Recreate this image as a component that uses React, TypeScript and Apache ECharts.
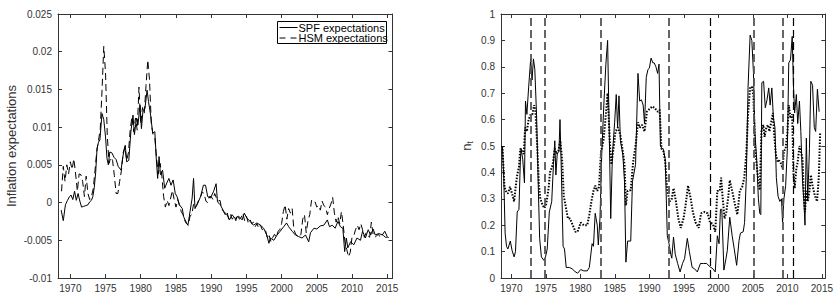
import React, { useEffect, useRef } from "react";
import * as echarts from "echarts";

const yearTicks = [1970, 1975, 1980, 1985, 1990, 1995, 2000, 2005, 2010, 2015];
const legendLabels = ["SPF expectations", "HSM expectations"];

// Left panel: inflation expectations [year, value]
const spfExpectations: [number, number][] = [
  [1968.7, -0.001], [1969.0, -0.0024], [1969.3, -0.0003], [1969.6, 0.0003], [1969.9, 0.0008],
  [1970.1, 0.001], [1970.35, 0.0004], [1970.6, 0.0015], [1970.85, 0.0003], [1971.1, 0.0012],
  [1971.35, 0.0002], [1971.6, -0.0006], [1971.9, -0.0005], [1972.2, -0.0004], [1972.5, -0.0003],
  [1972.75, 0.0001], [1973.0, 0.0003], [1973.2, 0.0008], [1973.4, 0.002], [1973.6, 0.004],
  [1973.8, 0.0072], [1974.0, 0.008], [1974.2, 0.0083], [1974.5, 0.0118], [1974.75, 0.011],
  [1975.0, 0.0087], [1975.2, 0.0059], [1975.4, 0.005], [1975.6, 0.0067], [1975.9, 0.0066],
  [1976.2, 0.006], [1976.5, 0.0057], [1976.8, 0.0048], [1977.2, 0.0043], [1977.5, 0.0063],
  [1977.8, 0.0076], [1978.0, 0.0054], [1978.3, 0.0056], [1978.6, 0.0094], [1978.9, 0.0116],
  [1979.1, 0.009], [1979.4, 0.0112], [1979.6, 0.0103], [1979.9, 0.0129], [1980.1, 0.0098],
  [1980.3, 0.012], [1980.6, 0.0125], [1980.9, 0.0149], [1981.1, 0.0134], [1981.4, 0.0116],
  [1981.7, 0.0092], [1982.0, 0.0094], [1982.2, 0.0059], [1982.4, 0.0032], [1982.6, 0.0061],
  [1982.8, 0.0037], [1983.1, 0.0043], [1983.4, 0.0019], [1983.7, 0.0026], [1984.0, 0.0032],
  [1984.3, 0.0023], [1984.6, 0.003], [1984.9, 0.0012], [1985.15, 0.0008], [1985.5, -0.0003],
  [1985.9, -0.0008], [1986.1, -0.0019], [1986.5, -0.0027], [1986.7, -0.003], [1987.0, -0.0012],
  [1987.3, 0.0006], [1987.5, 0.0032], [1987.7, -0.0008], [1988.0, -0.0003], [1988.5, 0.0008],
  [1988.9, 0.0023], [1989.2, 0.0023], [1989.5, 0.0008], [1989.9, 0.0006], [1990.35, 0.0015],
  [1990.7, 0.0025], [1990.9, 0.0001], [1991.3, -0.0003], [1991.8, -0.0012], [1992.25, -0.0016],
  [1992.6, -0.0023], [1992.96, -0.0016], [1993.4, -0.0021], [1993.9, -0.0018], [1994.4, -0.0023],
  [1994.7, -0.0014], [1995.1, -0.0021], [1995.55, -0.0025], [1996.0, -0.003], [1996.5, -0.0027],
  [1997.0, -0.003], [1997.45, -0.0034], [1997.9, -0.0043], [1998.2, -0.0054], [1998.4, -0.0047],
  [1998.9, -0.005], [1999.35, -0.0043], [1999.8, -0.0038], [2000.3, -0.0032], [2000.7, -0.0027],
  [2001.0, -0.0032], [2001.5, -0.0038], [2001.96, -0.0043], [2002.4, -0.0045], [2002.9, -0.0047],
  [2003.4, -0.0043], [2003.85, -0.0052], [2004.1, -0.004], [2004.6, -0.0034], [2005.0, -0.0035],
  [2005.5, -0.0031], [2006.0, -0.003], [2006.5, -0.0023], [2006.8, -0.0032], [2007.2, -0.003],
  [2007.6, -0.0034], [2008.0, -0.0025], [2008.35, -0.0032], [2008.7, -0.0034], [2008.96, -0.0065],
  [2009.2, -0.0047], [2009.4, -0.006], [2009.8, -0.0052], [2010.25, -0.0056], [2010.7, -0.0047],
  [2011.2, -0.005], [2011.5, -0.0038], [2011.9, -0.0047], [2012.3, -0.0036], [2012.65, -0.0043],
  [2013.0, -0.0035], [2013.3, -0.0043], [2013.8, -0.0041], [2014.3, -0.0043], [2014.65, -0.0038],
  [2015.0, -0.0045], [2015.2, -0.0047],
];

const hsmExpectations: [number, number][] = [
  [1968.75, 0.0015], [1969.0, 0.0048], [1969.25, 0.0028], [1969.5, 0.005], [1969.75, 0.0038],
  [1970.0, 0.0054], [1970.25, 0.0044], [1970.5, 0.0058], [1970.75, 0.0038], [1971.0, 0.0015],
  [1971.25, 0.0038], [1971.5, 0.0037], [1971.75, 0.0028], [1972.0, 0.0008], [1972.25, 0.0035],
  [1972.5, 0.0012], [1972.75, 0.0004], [1973.0, 0.0008], [1973.25, 0.0018], [1973.5, 0.0042],
  [1973.75, 0.0068], [1974.0, 0.0082], [1974.25, 0.0098], [1974.5, 0.0148], [1974.75, 0.0207],
  [1975.0, 0.0172], [1975.25, 0.0088], [1975.5, 0.0052], [1975.75, 0.006], [1976.0, 0.0056],
  [1976.25, 0.0036], [1976.5, 0.0012], [1976.75, 0.0012], [1977.0, 0.0028], [1977.25, 0.0042],
  [1977.5, 0.0066], [1977.75, 0.0074], [1978.0, 0.0056], [1978.25, 0.0066], [1978.5, 0.0096],
  [1978.75, 0.0114], [1979.0, 0.0094], [1979.25, 0.0112], [1979.5, 0.0096], [1979.75, 0.0153],
  [1980.0, 0.0104], [1980.25, 0.0126], [1980.5, 0.0118], [1980.75, 0.0155], [1981.0, 0.0189],
  [1981.25, 0.0162], [1981.5, 0.0104], [1981.75, 0.009], [1982.0, 0.0086], [1982.25, 0.0058],
  [1982.5, 0.0038], [1982.75, 0.0052], [1983.0, 0.0035], [1983.25, 0.0008], [1983.5, -0.0006],
  [1983.75, 0.0003], [1984.0, -0.0004], [1984.25, 0.0006], [1984.5, 0.0016], [1984.75, 0.0004],
  [1985.0, -0.0006], [1985.25, 0.0004], [1985.5, -0.0004], [1985.75, -0.0012], [1986.0, -0.0016],
  [1986.25, -0.0024], [1986.5, -0.0028], [1986.75, -0.003], [1987.0, -0.0018], [1987.25, -0.0016],
  [1987.5, -0.0002], [1987.75, -0.0006], [1988.0, -0.0002], [1988.25, 0.0004], [1988.5, 0.0008],
  [1988.75, 0.0014], [1989.0, 0.0012], [1989.25, 0.0002], [1989.5, 0.0], [1989.75, 0.0008],
  [1990.0, 0.0008], [1990.25, 0.0004], [1990.5, 0.0012], [1990.75, 0.0006], [1991.0, 0.0002],
  [1991.25, 0.0003], [1991.5, -0.0008], [1991.75, -0.0012], [1992.0, -0.0016], [1992.25, -0.0012],
  [1992.5, -0.0022], [1992.75, -0.0016], [1993.0, -0.0022], [1993.25, -0.0018], [1993.5, -0.0024],
  [1993.75, -0.0016], [1994.0, -0.0022], [1994.25, -0.002], [1994.5, -0.0014], [1994.75, -0.0024],
  [1995.0, -0.0018], [1995.25, -0.0026], [1995.5, -0.0022], [1995.75, -0.0028], [1996.0, -0.0026],
  [1996.25, -0.0032], [1996.5, -0.0028], [1996.75, -0.0034], [1997.0, -0.003], [1997.25, -0.0036],
  [1997.5, -0.0034], [1997.75, -0.0038], [1998.0, -0.0048], [1998.25, -0.0044], [1998.5, -0.0052],
  [1998.75, -0.0046], [1999.0, -0.0042], [1999.25, -0.0046], [1999.5, -0.0038], [1999.75, -0.0036],
  [2000.0, -0.0028], [2000.25, -0.0012], [2000.5, -0.0003], [2000.75, -0.0022], [2001.0, -0.0008],
  [2001.25, -0.0014], [2001.5, -0.0008], [2001.75, -0.0036], [2002.0, -0.0042], [2002.25, -0.0044],
  [2002.5, -0.0046], [2002.75, -0.0042], [2003.0, -0.0022], [2003.25, -0.0016], [2003.5, -0.004],
  [2003.75, -0.0024], [2004.0, -0.0016], [2004.25, 0.0003], [2004.5, 0.0], [2004.75, 0.0001],
  [2005.0, -0.0006], [2005.25, -0.0004], [2005.5, -0.001], [2005.75, 0.0002], [2006.0, -0.0004],
  [2006.25, -0.0006], [2006.5, -0.0016], [2006.75, -0.0008], [2007.0, -0.0002], [2007.25, 0.0007],
  [2007.5, -0.0014], [2007.75, -0.0026], [2008.0, -0.0018], [2008.25, -0.0028], [2008.5, -0.0012],
  [2008.75, -0.003], [2009.0, -0.0052], [2009.25, -0.0062], [2009.5, -0.0072], [2009.75, -0.0066],
  [2010.0, -0.0046], [2010.25, -0.0044], [2010.5, -0.0036], [2010.75, -0.003], [2011.0, -0.0036],
  [2011.25, -0.0028], [2011.5, -0.0036], [2011.75, -0.0046], [2012.0, -0.004], [2012.25, -0.0044],
  [2012.5, -0.0046], [2012.75, -0.0026], [2013.0, -0.0042], [2013.25, -0.0046], [2013.5, -0.0044],
  [2013.75, -0.0042], [2014.0, -0.0046], [2014.25, -0.0042], [2014.5, -0.0044], [2014.75, -0.0046],
  [2015.0, -0.0046], [2015.25, -0.0048],
];

// Right panel: n_t (solid) and dotted companion series [year, value]
const nSolid: [number, number][] = [
  [1968.7, 0.5], [1968.9, 0.38], [1969.1, 0.17], [1969.3, 0.12], [1969.5, 0.11], [1969.85, 0.14],
  [1970.1, 0.105], [1970.4, 0.08], [1970.6, 0.1], [1970.85, 0.25], [1971.1, 0.26], [1971.3, 0.44],
  [1971.4, 0.49], [1971.65, 0.45], [1971.9, 0.36], [1972.05, 0.67], [1972.25, 0.62], [1972.5, 0.72],
  [1972.8, 0.83], [1973.0, 0.75], [1973.2, 0.83], [1973.4, 0.79], [1973.65, 0.62], [1973.9, 0.35],
  [1974.1, 0.15], [1974.35, 0.08], [1974.7, 0.067], [1974.95, 0.08], [1975.2, 0.11], [1975.5, 0.25],
  [1975.85, 0.29], [1976.1, 0.43], [1976.3, 0.52], [1976.45, 0.39], [1976.65, 0.47], [1976.9, 0.48],
  [1977.05, 0.6], [1977.25, 0.4], [1977.5, 0.12], [1977.7, 0.11], [1977.95, 0.04], [1978.4, 0.04],
  [1978.8, 0.035], [1979.2, 0.025], [1979.6, 0.018], [1980.05, 0.032], [1980.5, 0.027], [1981.0, 0.027],
  [1981.3, 0.04], [1981.7, 0.13], [1981.9, 0.12], [1982.15, 0.245], [1982.45, 0.2], [1982.6, 0.125],
  [1982.85, 0.23], [1983.1, 0.47], [1983.4, 0.655], [1983.7, 0.81], [1983.95, 0.9], [1984.2, 0.53],
  [1984.4, 0.225], [1984.65, 0.47], [1984.97, 0.59], [1985.2, 0.695], [1985.4, 0.57], [1985.6, 0.69],
  [1985.8, 0.52], [1986.15, 0.47], [1986.4, 0.365], [1986.6, 0.06], [1986.85, 0.14], [1987.3, 0.14],
  [1987.55, 0.365], [1988.0, 0.43], [1988.35, 0.775], [1988.6, 0.67], [1988.85, 0.675], [1989.1, 0.655],
  [1989.3, 0.585], [1989.55, 0.76], [1989.8, 0.79], [1990.0, 0.795], [1990.25, 0.833], [1990.5, 0.815],
  [1990.7, 0.815], [1990.95, 0.8], [1991.2, 0.775], [1991.4, 0.81], [1991.6, 0.5], [1991.85, 0.49],
  [1992.0, 0.49], [1992.3, 0.45], [1992.6, 0.16], [1992.85, 0.13], [1993.1, 0.09], [1993.25, 0.075],
  [1993.5, 0.155], [1993.75, 0.09], [1994.1, 0.055], [1994.45, 0.023], [1994.8, 0.055], [1995.1, 0.073],
  [1995.5, 0.15], [1995.8, 0.1], [1996.2, 0.04], [1996.55, 0.035], [1996.95, 0.023], [1997.4, 0.055],
  [1997.85, 0.055], [1998.3, 0.055], [1998.8, 0.042], [1999.2, 0.035], [1999.55, 0.023], [1999.85, 0.16],
  [2000.1, 0.13], [2000.3, 0.26], [2000.5, 0.26], [2000.8, 0.03], [2001.1, 0.073], [2001.3, 0.105],
  [2001.65, 0.23], [2002.0, 0.16], [2002.3, 0.11], [2002.65, 0.048], [2003.0, 0.143], [2003.2, 0.17],
  [2003.6, 0.175], [2003.8, 0.21], [2004.05, 0.38], [2004.3, 0.72], [2004.6, 0.92], [2004.85, 0.9],
  [2005.08, 0.78], [2005.3, 0.55], [2005.55, 0.45], [2005.8, 0.3], [2006.0, 0.245], [2006.15, 0.24],
  [2006.3, 0.74], [2006.55, 0.745], [2006.8, 0.645], [2007.05, 0.675], [2007.3, 0.72], [2007.5, 0.655],
  [2007.75, 0.72], [2007.98, 0.605], [2008.2, 0.57], [2008.4, 0.38], [2008.65, 0.31], [2008.9, 0.29],
  [2009.15, 0.3], [2009.3, 0.21], [2009.5, 0.3], [2009.75, 0.35], [2010.0, 0.49], [2010.2, 0.815],
  [2010.45, 0.826], [2010.7, 0.915], [2010.88, 0.73], [2011.05, 0.625], [2011.3, 0.695], [2011.5, 0.585],
  [2011.75, 0.67], [2011.95, 0.555], [2012.2, 0.365], [2012.4, 0.29], [2012.55, 0.2], [2012.75, 0.53],
  [2012.95, 0.3], [2013.2, 0.49], [2013.4, 0.745], [2013.65, 0.73], [2013.9, 0.57], [2014.1, 0.555],
  [2014.35, 0.715], [2014.6, 0.63],
];

const nDotted: [number, number][] = [
  [1968.7, 0.5], [1969.0, 0.345], [1969.2, 0.33], [1969.5, 0.32], [1969.8, 0.345], [1970.1, 0.32],
  [1970.4, 0.29], [1970.6, 0.34], [1970.85, 0.39], [1971.1, 0.42], [1971.3, 0.49], [1971.55, 0.48],
  [1971.8, 0.47], [1972.0, 0.57], [1972.25, 0.555], [1972.5, 0.6], [1972.8, 0.62], [1973.05, 0.62],
  [1973.3, 0.655], [1973.5, 0.63], [1973.75, 0.5], [1974.0, 0.35], [1974.2, 0.3], [1974.55, 0.275],
  [1974.8, 0.265], [1975.05, 0.28], [1975.4, 0.34], [1975.6, 0.4], [1976.0, 0.43], [1976.3, 0.49],
  [1976.55, 0.47], [1976.8, 0.48], [1977.1, 0.52], [1977.35, 0.45], [1977.6, 0.31], [1977.85, 0.275],
  [1978.2, 0.225], [1978.5, 0.225], [1978.9, 0.2], [1979.3, 0.175], [1979.6, 0.175], [1980.05, 0.21],
  [1980.5, 0.2], [1981.0, 0.2], [1981.3, 0.24], [1981.6, 0.29], [1981.9, 0.33], [1982.15, 0.35],
  [1982.45, 0.33], [1982.7, 0.345], [1983.0, 0.48], [1983.35, 0.52], [1983.7, 0.62], [1983.95, 0.7],
  [1984.3, 0.5], [1984.5, 0.43], [1984.85, 0.5], [1985.1, 0.555], [1985.45, 0.57], [1985.8, 0.54],
  [1986.15, 0.48], [1986.4, 0.43], [1986.6, 0.275], [1986.85, 0.33], [1987.3, 0.333], [1987.65, 0.44],
  [1988.0, 0.5], [1988.35, 0.59], [1988.6, 0.57], [1988.95, 0.58], [1989.3, 0.555], [1989.65, 0.63],
  [1990.1, 0.643], [1990.45, 0.65], [1990.8, 0.643], [1991.2, 0.63], [1991.5, 0.637], [1991.75, 0.49],
  [1992.05, 0.48], [1992.3, 0.44], [1992.6, 0.33], [1992.95, 0.29], [1993.25, 0.3], [1993.5, 0.34],
  [1993.85, 0.29], [1994.2, 0.225], [1994.55, 0.19], [1994.95, 0.225], [1995.25, 0.275], [1995.6, 0.35],
  [1996.0, 0.3], [1996.3, 0.25], [1996.7, 0.21], [1997.15, 0.19], [1997.5, 0.245], [1998.0, 0.25],
  [1998.45, 0.245], [1998.8, 0.21], [1999.2, 0.205], [1999.55, 0.175], [1999.85, 0.33], [2000.2, 0.33],
  [2000.4, 0.38], [2000.6, 0.31], [2000.9, 0.225], [2001.15, 0.25], [2001.45, 0.31], [2001.65, 0.37],
  [2002.0, 0.33], [2002.4, 0.28], [2002.75, 0.24], [2003.1, 0.33], [2003.45, 0.345], [2003.75, 0.38],
  [2004.05, 0.47], [2004.3, 0.62], [2004.6, 0.72], [2004.85, 0.725], [2005.08, 0.69], [2005.3, 0.5],
  [2005.55, 0.43], [2005.8, 0.365], [2006.0, 0.333], [2006.25, 0.555], [2006.5, 0.58], [2006.7, 0.535],
  [2006.95, 0.57], [2007.2, 0.58], [2007.4, 0.555], [2007.65, 0.59], [2007.9, 0.625], [2008.1, 0.54],
  [2008.35, 0.465], [2008.6, 0.44], [2008.8, 0.445], [2009.05, 0.435], [2009.3, 0.415], [2009.5, 0.48],
  [2009.75, 0.49], [2010.0, 0.55], [2010.2, 0.655], [2010.45, 0.605], [2010.7, 0.62], [2010.88, 0.4],
  [2011.05, 0.34], [2011.3, 0.415], [2011.5, 0.44], [2011.75, 0.5], [2011.95, 0.48], [2012.2, 0.45],
  [2012.4, 0.3], [2012.55, 0.25], [2012.75, 0.33], [2012.95, 0.29], [2013.2, 0.33], [2013.4, 0.39],
  [2013.65, 0.35], [2014.0, 0.31], [2014.3, 0.29], [2014.55, 0.38], [2014.75, 0.55],
];

const breakDatesGray = [1972.8, 1974.8, 1982.96, 1992.8, 2005.08, 2009.38];
const breakDatesBlack = [1998.78, 2010.8];

const FONT = "'Liberation Sans', Arial, Helvetica, sans-serif";
const AXIS_COLOR = "#333";
const LABEL_COLOR = "#333";

function mainXAxis(gridIndex: number, min: number, max: number) {
  return {
    type: "value", gridIndex, min, max, position: "bottom",
    axisLine: { show: true, onZero: false, lineStyle: { color: AXIS_COLOR, width: 1 } },
    axisTick: { show: true, inside: true, length: 4, customValues: yearTicks, lineStyle: { color: AXIS_COLOR } },
    axisLabel: { show: true, customValues: yearTicks, color: LABEL_COLOR, fontSize: 10, fontFamily: FONT, margin: 5, formatter: (v: number) => String(v) },
    splitLine: { show: false },
  };
}
function mirrorXAxis(gridIndex: number, min: number, max: number) {
  return {
    type: "value", gridIndex, min, max, position: "top",
    axisLine: { show: true, onZero: false, lineStyle: { color: AXIS_COLOR, width: 1 } },
    axisTick: { show: true, inside: true, length: 4, customValues: yearTicks, lineStyle: { color: AXIS_COLOR } },
    axisLabel: { show: false },
    splitLine: { show: false },
  };
}

export default function App() {
  const ref = useRef<HTMLDivElement>(null);
  useEffect(() => {
    if (!ref.current) return;
    const chart = echarts.init(ref.current, null, { renderer: "svg" });
    const gridTop = 14;
    const gridH = 264;
    const option: any = {
      animation: false,
      backgroundColor: "#fff",
      textStyle: { fontFamily: FONT },
      grid: [
        { left: 58, top: gridTop, width: 334.5, height: gridH },
        { left: 501, top: gridTop, width: 334.5, height: gridH },
      ],
      xAxis: [
        mainXAxis(0, 1968.25, 2015.75),
        mirrorXAxis(0, 1968.25, 2015.75),
        mainXAxis(1, 1968.5, 2015.5),
        mirrorXAxis(1, 1968.5, 2015.5),
      ],
      yAxis: [
        {
          type: "value", gridIndex: 0, min: -0.01, max: 0.025, interval: 0.005, position: "left",
          axisLine: { show: true, onZero: false, lineStyle: { color: AXIS_COLOR } },
          axisTick: { show: true, inside: true, length: 4, lineStyle: { color: AXIS_COLOR } },
          axisLabel: { color: LABEL_COLOR, fontSize: 10, fontFamily: FONT, margin: 6 },
          splitLine: { show: false },
          name: "Inflation expectations", nameLocation: "middle", nameGap: 40, nameRotate: 90,
          nameTextStyle: { color: LABEL_COLOR, fontSize: 13, fontFamily: FONT },
        },
        {
          type: "value", gridIndex: 0, min: -0.01, max: 0.025, interval: 0.005, position: "right",
          axisLine: { show: true, onZero: false, lineStyle: { color: AXIS_COLOR } },
          axisTick: { show: true, inside: true, length: 4, lineStyle: { color: AXIS_COLOR } },
          axisLabel: { show: false }, splitLine: { show: false },
        },
        {
          type: "value", gridIndex: 1, min: 0, max: 1, interval: 0.1, position: "left",
          axisLine: { show: true, onZero: false, lineStyle: { color: AXIS_COLOR } },
          axisTick: { show: true, inside: true, length: 4, lineStyle: { color: AXIS_COLOR } },
          axisLabel: { color: LABEL_COLOR, fontSize: 10, fontFamily: FONT, margin: 6 },
          splitLine: { show: false },
          name: "{n|n}{t|t}", nameLocation: "middle", nameGap: 27, nameRotate: 90,
          nameTextStyle: {
            color: LABEL_COLOR, fontFamily: FONT,
            rich: {
              n: { fontSize: 13, color: LABEL_COLOR, fontFamily: FONT },
              t: { fontSize: 9, color: LABEL_COLOR, fontFamily: FONT, verticalAlign: "bottom", padding: [7, 0, 0, 0] },
            },
          },
        },
        {
          type: "value", gridIndex: 1, min: 0, max: 1, interval: 0.1, position: "right",
          axisLine: { show: true, onZero: false, lineStyle: { color: AXIS_COLOR } },
          axisTick: { show: true, inside: true, length: 4, lineStyle: { color: AXIS_COLOR } },
          axisLabel: { show: false }, splitLine: { show: false },
        },
      ],
      legend: { show: false },
      graphic: [
        {
          type: "group", left: 277, top: 21, z: 100,
          children: [
            { type: "rect", shape: { x: 0, y: 0, width: 109, height: 22 }, style: { fill: "#fff", stroke: "#000", lineWidth: 1 } },
            { type: "line", shape: { x1: 2, y1: 6, x2: 20, y2: 6 }, style: { stroke: "#000", lineWidth: 1 } },
            { type: "line", shape: { x1: 2, y1: 16.5, x2: 20, y2: 16.5 }, style: { stroke: "#000", lineWidth: 1, lineDash: [6, 5] } },
            { type: "text", x: 21, y: 6, style: { text: legendLabels[0], fill: "#000", fontSize: 11, fontFamily: FONT, verticalAlign: "middle", align: "left" } },
            { type: "text", x: 21, y: 16.5, style: { text: legendLabels[1], fill: "#000", fontSize: 11, fontFamily: FONT, verticalAlign: "middle", align: "left" } },
          ],
        },
      ],
      series: [
        {
          name: legendLabels[0], type: "line", xAxisIndex: 0, yAxisIndex: 0,
          data: spfExpectations, showSymbol: false, symbol: "none",
          lineStyle: { color: "#000", width: 1 }, itemStyle: { color: "#000" },
        },
        {
          name: legendLabels[1], type: "line", xAxisIndex: 0, yAxisIndex: 0,
          data: hsmExpectations, showSymbol: false, symbol: "none",
          lineStyle: { color: "#000", width: 1, type: [7, 4] }, itemStyle: { color: "#000" },
        },
        {
          name: "n_t", type: "line", xAxisIndex: 2, yAxisIndex: 2,
          data: nSolid, showSymbol: false, symbol: "none",
          lineStyle: { color: "#000", width: 1 },
          markLine: {
            silent: true, symbol: ["none", "none"], label: { show: false },
            data: [
              ...breakDatesGray.map((d) => ({ xAxis: d, lineStyle: { color: "#555", width: 1.8, type: [8, 4] } })),
              ...breakDatesBlack.map((d) => ({ xAxis: d, lineStyle: { color: "#000", width: 1.2, type: [8, 4] } })),
            ],
          },
        },
        {
          name: "dotted", type: "line", xAxisIndex: 2, yAxisIndex: 2,
          data: nDotted, showSymbol: false, symbol: "none",
          lineStyle: { color: "#000", width: 2, type: [1.5, 1.5] },
        },
      ],
    };
    chart.setOption(option);
    return () => chart.dispose();
  }, []);
  return <div ref={ref} style={{ position: "absolute", left: 0, top: 0, width: 836, height: 295 }} />;
}
